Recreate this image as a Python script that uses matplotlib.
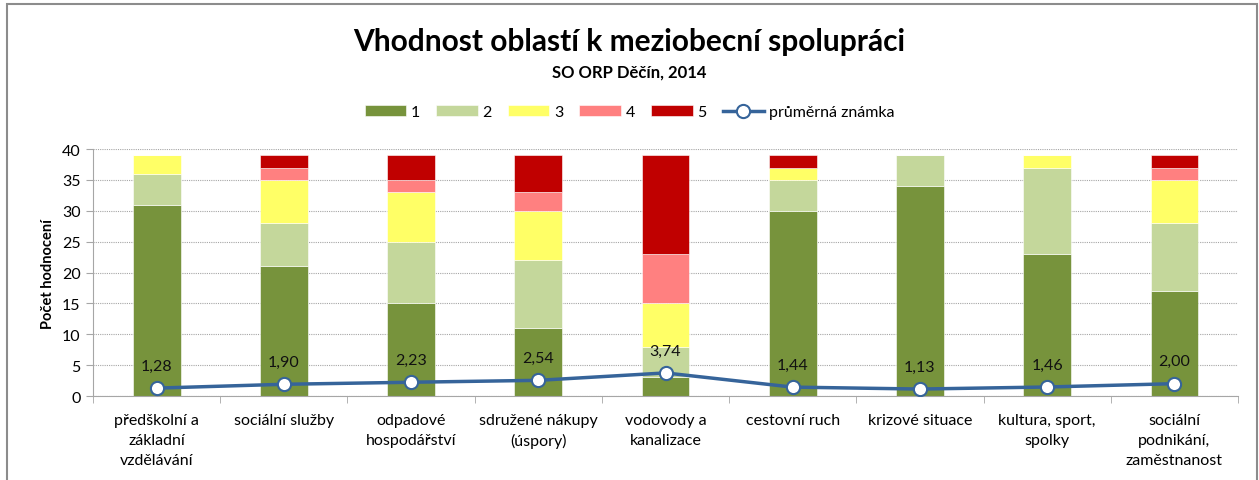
import matplotlib.pyplot as plt
import numpy as np
from matplotlib.patches import Rectangle

plt.rcParams["font.family"] = ["Lato", "DejaVu Sans"]

categories = [
    "předškolní a\nzákladní\nvzdělávání",
    "sociální služby",
    "odpadové\nhospodářství",
    "sdružené nákupy\n(úspory)",
    "vodovody a\nkanalizace",
    "cestovní ruch",
    "krizové situace",
    "kultura, sport,\nspolky",
    "sociální\npodnikání,\nzaměstnanost",
]
grade1 = [31, 21, 15, 11, 3, 30, 34, 23, 17]
grade2 = [5, 7, 10, 11, 5, 5, 5, 14, 11]
grade3 = [3, 7, 8, 8, 7, 2, 0, 2, 7]
grade4 = [0, 2, 2, 3, 8, 0, 0, 0, 2]
grade5 = [0, 2, 4, 6, 16, 2, 0, 0, 2]
avg_grade = [1.28, 1.90, 2.23, 2.54, 3.74, 1.44, 1.13, 1.46, 2.00]

series = [grade1, grade2, grade3, grade4, grade5]
names = ["1", "2", "3", "4", "5"]
colors = ["#77933C", "#C4D79B", "#FFFF66", "#FF8080", "#C00000"]

fig = plt.figure(figsize=(12.59, 4.81), dpi=100)
ax = fig.add_axes([0.0739, 0.1746, 0.9094, 0.5135])

x = np.arange(len(categories))
bottom = np.zeros(len(categories))
for vals, name, col in zip(series, names, colors):
    ax.bar(x, vals, 0.375, bottom=bottom, color=col, label=name,
           edgecolor="white", linewidth=0.4, zorder=2)
    bottom += np.array(vals)

ax.plot(x, avg_grade, color="#36649A", linewidth=2.5, marker="o",
        markersize=9.5, markerfacecolor="white", markeredgecolor="#36649A",
        markeredgewidth=1.5, label="průměrná známka", zorder=3)
for xi, v in zip(x, avg_grade):
    ax.annotate(f"{v:.2f}".replace(".", ","), (xi, v), xytext=(0, 11),
                textcoords="offset points", ha="center", va="bottom",
                fontsize=11.5, color="#111111", zorder=4)

ax.set_xlim(-0.5, len(categories) - 0.5)
ax.set_ylim(0, 40)
ax.set_yticks(range(0, 41, 5))
ax.yaxis.grid(True, linestyle=(0, (1, 1)), color="#A6A6A6", linewidth=0.8, zorder=0)
ax.set_axisbelow(True)

ax.set_xticks(x)
ax.set_xticklabels(categories, fontsize=11.5, linespacing=1.55)
ax.set_xticks(np.arange(-0.5, len(categories)), minor=True)
ax.tick_params(axis="x", which="major", length=0, pad=12)
ax.tick_params(axis="x", which="minor", length=5, color="#A6A6A6", direction="out")
ax.tick_params(axis="y", length=5, color="#A6A6A6", labelsize=11.5, pad=4)

for s in ["top", "right"]:
    ax.spines[s].set_visible(False)
for s in ["left", "bottom"]:
    ax.spines[s].set_color("#A6A6A6")

ax.set_ylabel("Počet hodnocení", fontsize=10.5, fontweight="bold", labelpad=5)

fig.text(0.5, 0.912, "Vhodnost oblastí k meziobecní spolupráci", ha="center",
         va="center", fontsize=21.5, fontweight="bold")
fig.text(0.5, 0.85, "SO ORP Děčín, 2014", ha="center", va="center",
         fontsize=12, fontweight="bold")

handles, labels = ax.get_legend_handles_labels()
handles = handles[1:] + handles[:1]
labels = labels[1:] + labels[:1]
fig.legend(handles, labels, loc="center", bbox_to_anchor=(0.5, 0.765), ncol=6,
           frameon=False, fontsize=11.5, handlelength=2.6, handleheight=0.7,
           columnspacing=1.0, handletextpad=0.3)

fig.patches.append(Rectangle((7 / 1259, -0.1), 1250 / 1259, 1.09,
                             transform=fig.transFigure, fill=False,
                             edgecolor="#8C8C8C", linewidth=1.5))

fig.savefig("out.png", dpi=100)
